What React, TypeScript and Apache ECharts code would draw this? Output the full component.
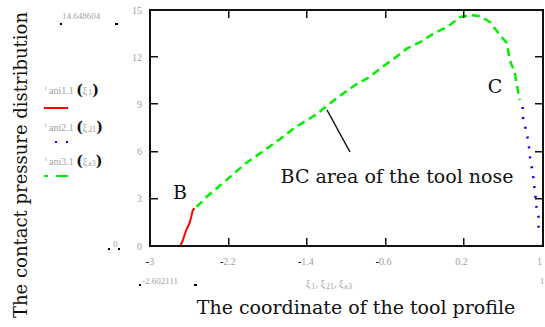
import React, { useEffect, useRef } from "react";
import * as echarts from "echarts";

// Series data: [x (tool profile coordinate), y (contact pressure)]
const redSeries: [number, number][] = [
  [-2.688, 0], [-2.662, 0.38], [-2.627, 1.02], [-2.593, 1.46], [-2.576, 1.87], [-2.56, 2.29], [-2.542, 2.4],
];
const greenSeries: [number, number][] = [
  [-2.522, 2.48], [-2.42, 3.11], [-2.216, 4.19], [-2.013, 5.28], [-1.85, 5.97], [-1.677, 6.74],
  [-1.504, 7.56], [-1.3, 8.33], [-1.198, 8.84], [-1.066, 9.47], [-0.893, 10.23], [-0.761, 10.68],
  [-0.629, 11.31], [-0.486, 11.95], [-0.354, 12.58], [-0.221, 12.97], [-0.079, 13.54], [0.053, 13.92],
  [0.186, 14.56], [0.288, 14.68], [0.389, 14.62], [0.491, 14.24], [0.593, 13.41], [0.664, 12.9],
  [0.695, 11.82], [0.746, 11.0], [0.786, 9.6], [0.797, 9.28],
];
const blueSeries: [number, number][] = [
  [0.827, 8.83], [0.827, 8.26], [0.868, 7.18], [0.888, 6.55], [0.898, 5.91], [0.908, 5.34],
  [0.929, 4.77], [0.939, 4.19], [0.959, 3.11], [0.969, 2.48], [0.99, 1.84], [0.99, 1.27], [1.0, 0.7],
];
const xTicks = [-3, -2.2, -1.4, -0.6, 0.2, 1];
const yTicks = [0, 3, 6, 9, 12, 15];
const xMin = -3, xMax = 1, yMin = 0, yMax = 15;

const SERIF = "DejaVu Serif, Liberation Serif, serif";
const LBL = "Liberation Serif, DejaVu Serif, serif";
const INK = "#111111";
const W = 545, H = 327;
const GRID = { left: 150, right: 2, top: 10, bottom: 81 };

const fmtTick = (v: number) => {
  const r = Math.round(v * 10) / 10;
  if (r < 0) return "{m|-}{g|" + String(Math.abs(r)) + "}";
  return "{g|" + String(r) + "}";
};
const tickRich = {
  g: { color: "#a0a0a0", fontSize: 10, fontFamily: LBL },
  m: { color: "#000", fontSize: 10, fontFamily: LBL, fontWeight: "bold" as const },
};

export default function App() {
  const ref = useRef<HTMLDivElement>(null);
  useEffect(() => {
    document.body.style.margin = "0";
    const chart = echarts.init(ref.current!, undefined, { renderer: "svg" });
    const hidden = { show: false };

    // plot frame drawn as thin filled bars around the grid box
    const L = GRID.left, T = GRID.top, R = W - GRID.right, B = H - GRID.bottom;
    const sx = (v: number) => L + ((v - xMin) / (xMax - xMin)) * (R - L);
    const sy = (v: number) => B - ((v - yMin) / (yMax - yMin)) * (B - T);
    const TL = 8;
    const bar = (x: number, y: number, w: number, h: number) => ({
      type: "rect", shape: { x, y, width: w, height: h }, style: { fill: INK }, z: 10,
    });
    const frame: any[] = [
      bar(L - 1, T - 1, R - L + 2, 2),
      bar(L - 1, B - 1, R - L + 2, 2),
      bar(L - 1, T - 1, 2, B - T + 2),
      bar(R - 1, T - 1, 2, B - T + 2),
    ];
    xTicks.slice(1, -1).forEach((v) => {
      const x = Math.round(sx(v));
      frame.push(bar(x - 1, B - TL, 1.5, TL));
      frame.push(bar(x - 1, T, 1.5, TL));
    });
    yTicks.slice(1, -1).forEach((v) => {
      const y = Math.round(sy(v));
      frame.push(bar(L, y - 1, TL, 1.5));
      frame.push(bar(R - TL, y - 1, TL, 1.5));
    });

    chart.setOption({
      animation: false,
      grid: GRID,
      xAxis: {
        type: "value", min: xMin, max: xMax,
        axisLine: hidden, axisTick: hidden, splitLine: hidden,
        axisLabel: { customValues: xTicks, formatter: fmtTick, rich: tickRich, margin: 10, showMinLabel: true, showMaxLabel: true },
      },
      yAxis: {
        type: "value", min: yMin, max: yMax, interval: 3,
        axisLine: hidden, axisTick: hidden, splitLine: hidden,
        axisLabel: { formatter: fmtTick, rich: tickRich, margin: 8 },
      },
      series: [
        {
          name: "red", type: "line", data: redSeries, showSymbol: false,
          lineStyle: { color: "#ff0000", width: 2 },
        },
        {
          name: "green", type: "line", data: greenSeries, showSymbol: false,
          lineStyle: { color: "#00f000", width: 2.5, type: [8, 5] },
        },
        {
          name: "blue", type: "line", data: blueSeries, showSymbol: false,
          lineStyle: { color: "#0000ff", width: 2.5, type: [2, 8] },
        },
      ],
      graphic: [
        ...frame,
        // axis titles
        {
          type: "text", x: 20, y: 165, rotation: Math.PI / 2,
          style: { text: "The contact pressure distribution", font: "18px " + SERIF, fill: INK, align: "center", verticalAlign: "middle" },
        },
        {
          type: "text", x: 356, y: 307,
          style: { text: "The coordinate of the tool profile", font: "19px " + SERIF, fill: INK, align: "center", verticalAlign: "middle" },
        },
        // y range labels
        {
          type: "text", x: 62, y: 16,
          style: { text: "14.648604", font: "9px " + LBL, fill: "#a0a0a0", verticalAlign: "middle" },
        },
        { type: "rect", shape: { x: 60, y: 23, width: 2, height: 2 }, style: { fill: "#000" } },
        { type: "rect", shape: { x: 115, y: 23, width: 3, height: 2 }, style: { fill: "#000" } },
        {
          type: "text", x: 113, y: 244,
          style: { text: "0", font: "9px " + LBL, fill: "#a0a0a0", verticalAlign: "middle" },
        },
        { type: "rect", shape: { x: 108, y: 248, width: 2, height: 2 }, style: { fill: "#000" } },
        { type: "rect", shape: { x: 118, y: 248, width: 2, height: 2 }, style: { fill: "#000" } },
        // x range labels
        { type: "rect", shape: { x: 139, y: 284, width: 2, height: 2 }, style: { fill: "#000" } },
        {
          type: "text", x: 142, y: 281,
          style: { text: "-2.602111", font: "9px " + LBL, fill: "#a0a0a0", verticalAlign: "middle" },
        },
        { type: "rect", shape: { x: 194, y: 284, width: 3, height: 2 }, style: { fill: "#000" } },
        {
          type: "text", x: 540, y: 281,
          style: { text: "1", font: "9px " + LBL, fill: "#a0a0a0", verticalAlign: "middle" },
        },
        {
          type: "text", x: 306, y: 283,
          style: {
            text: "{g|ξ}{s|1}{g|, ξ}{s|21}{g|, ξ}{s|a3}",
            verticalAlign: "middle",
            rich: {
              g: { font: "10px " + LBL, fill: "#a0a0a0" },
              s: { font: "8px " + LBL, fill: "#a0a0a0", padding: [6, 0, 0, 1] },
            },
          },
        },
        // legend
        ...[
          { y: 90, name: "ani1.1", arg: "1" },
          { y: 127, name: "ani2.1", arg: "21" },
          { y: 161, name: "ani3.1", arg: "a3" },
        ].map((l) => ({
          type: "text", x: 45, y: l.y,
          style: {
            text: "{t|t}{g|" + l.name + " }{b|(}{g|ξ}{s|" + l.arg + "}{b|)}",
            verticalAlign: "middle",
            rich: {
              t: { font: "7px " + LBL, fill: "#a0a0a0", padding: [0, 2, 4, 0] },
              g: { font: "10px " + LBL, fill: "#a0a0a0" },
              s: { font: "8px " + LBL, fill: "#a0a0a0", padding: [4, 0, 0, 1] },
              b: { font: "bold 14px " + SERIF, fill: INK },
            },
          },
        })),
        { type: "line", shape: { x1: 44, y1: 108, x2: 68, y2: 108 }, style: { stroke: "#ff0000", lineWidth: 2 } },
        { type: "line", shape: { x1: 55, y1: 142, x2: 69, y2: 142 }, style: { stroke: "#0000ff", lineWidth: 2, lineDash: [2, 9] } },
        { type: "line", shape: { x1: 44, y1: 176, x2: 68, y2: 176 }, style: { stroke: "#00f000", lineWidth: 2, lineDash: [4, 8, 12, 0] } },
        // annotations
        {
          type: "text", x: 180, y: 192,
          style: { text: "B", font: "19px " + SERIF, fill: INK, align: "center", verticalAlign: "middle" },
        },
        {
          type: "text", x: 495, y: 86,
          style: { text: "C", font: "19px " + SERIF, fill: INK, align: "center", verticalAlign: "middle" },
        },
        {
          type: "text", x: 397, y: 176,
          style: { text: "BC area of the tool nose", font: "19px " + SERIF, fill: INK, align: "center", verticalAlign: "middle" },
        },
        { type: "line", shape: { x1: 327, y1: 110, x2: 350, y2: 152 }, style: { stroke: INK, lineWidth: 1.5 } },
      ],
    });
    return () => chart.dispose();
  }, []);
  return <div ref={ref} style={{ position: "fixed", left: 0, top: 0, width: W, height: H, background: "#fff" }} />;
}
